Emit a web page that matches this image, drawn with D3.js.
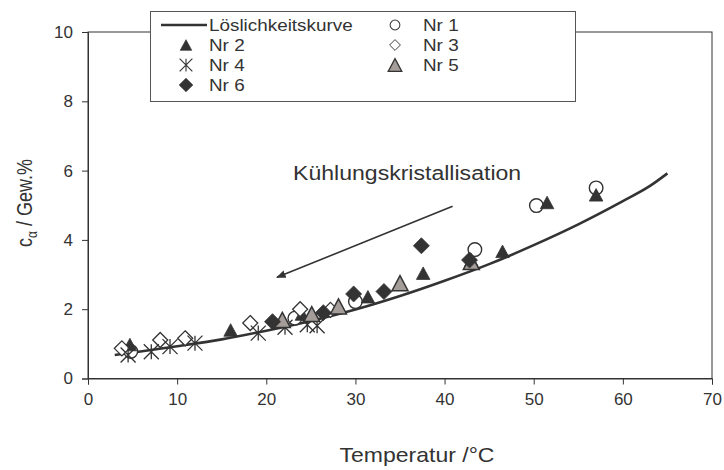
<!DOCTYPE html>
<html>
<head>
<meta charset="utf-8">
<script src="https://cdn.jsdelivr.net/npm/d3@7"></script>
<style>
  html, body { margin: 0; padding: 0; background: #fff; }
  svg text { font-family: "Liberation Sans", Arial, sans-serif; fill: #333; }
</style>
</head>
<body>
<svg id="chart" width="724" height="470"></svg>
<script>
// Solubility curve (temperature in °C, concentration in Gew.%)
const curveT = [3, 5, 10, 15, 20, 25, 30, 35, 40, 45, 50, 55, 60, 63, 65];
const curveC = [0.68, 0.75, 0.93, 1.13, 1.38, 1.66, 1.99, 2.38, 2.82, 3.30, 3.85, 4.45, 5.12, 5.55, 5.92];

// Measurement runs
const nr1T = [4.8, 23.2, 30.0, 43.4, 50.3, 57.0];
const nr1C = [0.78, 1.74, 2.22, 3.72, 4.99, 5.50];
const nr2T = [4.7, 16.0, 24.0, 31.4, 37.6, 43.0, 46.5, 51.5, 57.0];
const nr2C = [0.98, 1.40, 1.86, 2.36, 3.04, 3.42, 3.67, 5.08, 5.30];
const nr3T = [3.8, 8.1, 10.9, 18.2, 23.8, 27.2];
const nr3C = [0.87, 1.11, 1.16, 1.60, 2.00, 1.98];
const nr4T = [4.5, 7.1, 9.2, 12.0, 19.1, 22.1, 24.6, 25.7];
const nr4C = [0.68, 0.77, 0.92, 1.02, 1.31, 1.48, 1.55, 1.52];
const nr5T = [21.8, 25.1, 28.1, 35.0, 43.0];
const nr5C = [1.69, 1.86, 2.08, 2.75, 3.36];
const nr6T = [20.7, 26.4, 29.8, 33.2, 37.4, 42.8];
const nr6C = [1.64, 1.90, 2.44, 2.51, 3.83, 3.42];

const xTicks = [0, 10, 20, 30, 40, 50, 60, 70];
const yTicks = [0, 2, 4, 6, 8, 10];

// Arrow for the cooling direction (data coordinates: start -> end)
const arrowT = [40.9, 21.2];
const arrowC = [4.97, 2.92];

const dark = "#333";
const grayFill = "#a59d99";

const svg = d3.select("#chart");
const plotL = 88, plotR = 712, plotT = 32, plotB = 378.5;

const x = d3.scaleLinear().domain([0, 70]).range([plotL, plotR]);
const y = d3.scaleLinear().domain([0, 10]).range([plotB, plotT]);

// Plot frame
svg.append("rect")
  .attr("x", plotL).attr("y", plotT)
  .attr("width", plotR - plotL).attr("height", plotB - plotT)
  .attr("fill", "none").attr("stroke", dark).attr("stroke-width", 1);

// Axes
const xAxis = svg.append("g").attr("transform", `translate(0,${plotB})`)
  .call(d3.axisBottom(x).tickValues(xTicks).tickSize(6).tickPadding(8));
const yAxis = svg.append("g").attr("transform", `translate(${plotL},0)`)
  .call(d3.axisLeft(y).tickValues(yTicks).tickSize(6).tickPadding(9));
[xAxis, yAxis].forEach(g => {
  g.select(".domain").attr("stroke", dark);
  g.selectAll(".tick line").attr("stroke", dark);
  g.selectAll(".tick text").attr("fill", dark)
    .style("font-size", "17px").style("font-family", "Liberation Sans, Arial, sans-serif");
});

// Solubility curve
const curvePts = curveT.map((t, i) => [t, curveC[i]]);
svg.append("path")
  .datum(curvePts)
  .attr("fill", "none").attr("stroke", dark).attr("stroke-width", 2.6)
  .attr("d", d3.line().x(d => x(d[0])).y(d => y(d[1])).curve(d3.curveMonotoneX));

// Marker drawing helper
function drawMarker(g, kind, cx, cy) {
  if (kind === "circle") {
    g.append("circle").attr("cx", cx).attr("cy", cy).attr("r", 6.8)
      .attr("fill", "#fff").attr("stroke", dark).attr("stroke-width", 1.4);
  } else if (kind === "tri" || kind === "triGray") {
    const gray = kind === "triGray";
    const w = gray ? 16 : 13.5, h = gray ? 15 : 12.5;
    g.append("path")
      .attr("d", `M${cx},${cy - h / 2}L${cx + w / 2},${cy + h / 2}L${cx - w / 2},${cy + h / 2}Z`)
      .attr("fill", gray ? grayFill : dark).attr("stroke", dark)
      .attr("stroke-width", gray ? 1.5 : 0.8).attr("stroke-linejoin", "miter");
  } else if (kind === "diamondOpen" || kind === "diamond") {
    const open = kind === "diamondOpen";
    const s = open ? 7.5 : 8;
    g.append("path").attr("d", `M${cx},${cy - s}L${cx + s},${cy}L${cx},${cy + s}L${cx - s},${cy}Z`)
      .attr("fill", open ? "#fff" : dark).attr("stroke", dark).attr("stroke-width", open ? 1.3 : 0.8);
  } else if (kind === "star") {
    const s = 7.5;
    g.append("path")
      .attr("d", `M${cx - s},${cy - s}L${cx + s},${cy + s}M${cx - s},${cy + s}L${cx + s},${cy - s}M${cx},${cy - s}L${cx},${cy + s}`)
      .attr("fill", "none").attr("stroke", dark).attr("stroke-width", 1.3);
  }
}

const series = [
  { name: "Nr 1", kind: "circle", t: nr1T, c: nr1C },
  { name: "Nr 2", kind: "tri", t: nr2T, c: nr2C },
  { name: "Nr 3", kind: "diamondOpen", t: nr3T, c: nr3C },
  { name: "Nr 4", kind: "star", t: nr4T, c: nr4C },
  { name: "Nr 5", kind: "triGray", t: nr5T, c: nr5C },
  { name: "Nr 6", kind: "diamond", t: nr6T, c: nr6C }
];

const marks = svg.append("g");
series.forEach(s => {
  s.t.forEach((t, i) => drawMarker(marks, s.kind, x(t), y(s.c[i])));
});

// Cooling crystallisation arrow
svg.append("defs").append("marker")
  .attr("id", "arrowhead").attr("viewBox", "0 0 10 10")
  .attr("refX", 9).attr("refY", 5)
  .attr("markerWidth", 6).attr("markerHeight", 6)
  .attr("orient", "auto")
  .append("path").attr("d", "M0,1L10,5L0,9Z").attr("fill", dark);
svg.append("line")
  .attr("x1", x(arrowT[0])).attr("y1", y(arrowC[0]))
  .attr("x2", x(arrowT[1])).attr("y2", y(arrowC[1]))
  .attr("stroke", dark).attr("stroke-width", 1.6)
  .attr("marker-end", "url(#arrowhead)");

// Slightly widened text, as in the original chart layout
function wideText(px, py, sx, size, str, anchor) {
  return svg.append("text")
    .attr("transform", `translate(${px},${py}) scale(${sx},1)`)
    .attr("text-anchor", anchor || "start")
    .style("font-size", size + "px")
    .text(str);
}

wideText(293, 180, 1.12, 20.6, "Kühlungskristallisation");

// Axis titles
wideText(417, 462, 1.15, 20, "Temperatur /°C", "middle");

const yTitle = svg.append("text")
  .attr("transform", "translate(32,203) scale(1.2,1) rotate(-90)")
  .attr("text-anchor", "middle")
  .style("font-size", "18px");
yTitle.append("tspan").text("c");
yTitle.append("tspan").attr("dy", 4).style("font-size", "12px").text("α");
yTitle.append("tspan").attr("dy", -4).text(" / Gew.%");

// Legend
const legend = svg.append("g");
legend.append("rect")
  .attr("x", 150.5).attr("y", 11.5).attr("width", 425).attr("height", 90)
  .attr("fill", "#fff").attr("stroke", "#555").attr("stroke-width", 1);

const legendItems = [
  { name: "Löslichkeitskurve", kind: "line", col: 0, row: 0 },
  { name: "Nr 1", kind: "circle", col: 1, row: 0 },
  { name: "Nr 2", kind: "tri", col: 0, row: 1 },
  { name: "Nr 3", kind: "diamondOpen", col: 1, row: 1 },
  { name: "Nr 4", kind: "star", col: 0, row: 2 },
  { name: "Nr 5", kind: "triGray", col: 1, row: 2 },
  { name: "Nr 6", kind: "diamond", col: 0, row: 3 }
];
const colMarkX = [186, 395], colTextX = [209, 423];
legendItems.forEach(it => {
  const base = 30.5 + it.row * 20;
  const cy = base - 5.5;
  if (it.kind === "line") {
    legend.append("line").attr("x1", 161).attr("x2", 207).attr("y1", cy).attr("y2", cy)
      .attr("stroke", dark).attr("stroke-width", 2.6);
  } else {
    const mx = colMarkX[it.col];
    const k = (it.kind === "circle" || it.kind === "diamondOpen") ? 0.72 : 0.85;
    const lg = legend.append("g").attr("transform", `translate(${mx},${cy}) scale(${k}) translate(${-mx},${-cy})`);
    drawMarker(lg, it.kind, mx, cy);
  }
  legend.append("text")
    .attr("transform", `translate(${colTextX[it.col]},${base}) scale(1.18,1)`)
    .style("font-size", "16px").text(it.name);
});
</script>
</body>
</html>
